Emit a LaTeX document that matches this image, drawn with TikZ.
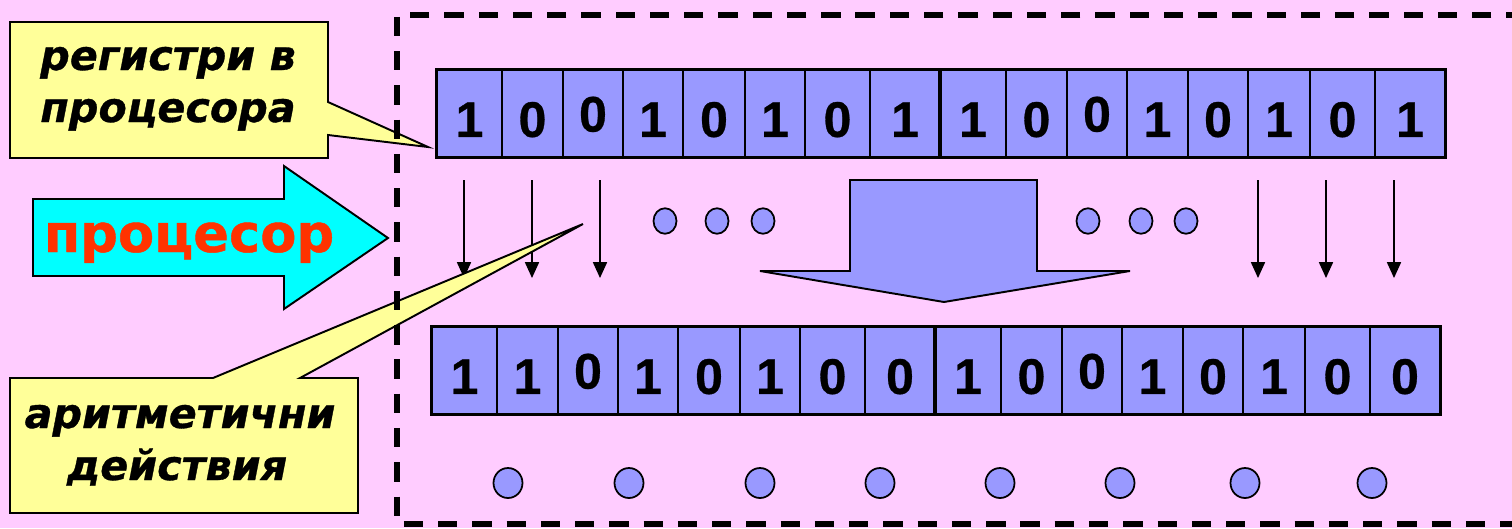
\documentclass[tikz,border=0pt]{standalone}
\usepackage{fontspec}
\setmainfont{Liberation Sans}[BoldFeatures={FakeBold=0.6}]
\newfontfamily\calloutfont{DejaVu Sans}[BoldFeatures={FakeBold=0.8},BoldItalicFeatures={FakeBold=0.8}]
\usetikzlibrary{arrows.meta,shapes.geometric}
\definecolor{bgpink}{HTML}{FFCCFF}
\definecolor{bitblue}{HTML}{9999FF}
\definecolor{noteyellow}{HTML}{FFFF99}
\definecolor{cpucyan}{HTML}{00FFFF}
\definecolor{cpured}{HTML}{FF3300}
\newcommand\upzero{\raisebox{3pt}{0}}
\begin{document}
\begin{tikzpicture}[x=0.02cm,y=-0.02cm,
  cell/.style={draw=black,line width=1pt,fill=bitblue,inner sep=0pt,
    minimum height=1.74cm,text height=26.6pt,text depth=0pt,
    font=\fontsize{28.5}{30}\selectfont\bfseries},
  half/.style={draw=black,line width=1.7pt},
  smalldot/.style={ellipse,draw=black,line width=1pt,fill=bitblue,inner sep=0pt,
    minimum width=0.46cm,minimum height=0.51cm},
  bigdot/.style={ellipse,draw=black,line width=1pt,fill=bitblue,inner sep=0pt,
    minimum width=0.58cm,minimum height=0.6cm},
  flow/.style={line width=0.8pt,-{Triangle[length=9pt,width=8pt]}},
  note/.style={draw=black,line width=1.1pt,fill=noteyellow,line join=miter},
  notetext/.style={anchor=base,inner sep=0pt,
    font=\calloutfont\fontsize{23.5}{28}\selectfont\bfseries\itshape},
  blockshape/.style={draw=black,line width=1.1pt,line join=miter},
  frame/.style={line width=3.2pt,dash pattern=on 11pt off 8.5pt}]

% page and background
\useasboundingbox (0,0) rectangle (1512,528);
\fill[bgpink] (0,0) rectangle (1512,528);
\clip (0,0) rectangle (1512,528);

% source register
\foreach \a/\b/\d [count=\i] in {437/502/1,502/563/0,563/623/\upzero,623/683/1,
    683/745/0,745/805/1,805/870/0,870/940/1,940/1006/1,1006/1067/0,
    1067/1127/\upzero,1127/1188/1,1188/1248/0,1248/1310/1,1310/1375/0,1375/1445/1}
  \node[cell,minimum width={(\b-\a)*0.02cm}] (t\i) at ({(\a+\b)/2},113.5) {\d};
\draw[half] (t1.north west) rectangle (t8.south east);
\draw[half] (t9.north west) rectangle (t16.south east);

% result register
\foreach \a/\b/\d [count=\i] in {432/497/1,497/558/1,558/618/\upzero,618/678/1,
    678/740/0,740/800/1,800/865/0,865/935/0,935/1001/1,1001/1062/0,
    1062/1122/\upzero,1122/1183/1,1183/1243/0,1243/1305/1,1305/1370/0,1370/1440/0}
  \node[cell,minimum width={(\b-\a)*0.02cm}] (r\i) at ({(\a+\b)/2},370.5) {\d};
\draw[half] (r1.north west) rectangle (r8.south east);
\draw[half] (r9.north west) rectangle (r16.south east);

% bit transfer arrows
\foreach \x [count=\i] in {464,532,600,1258,1326,1394} {
  \coordinate (as\i) at (\x,180);
  \coordinate (ae\i) at (\x,278);
  \draw[flow] (as\i) -- (ae\i);
}

% ellipsis dots between the arrows
\foreach \x [count=\i] in {665,717,763,1088,1141,1186}
  \node[smalldot] (m\i) at (\x,221) {};

% dots under the result register
\foreach \x [count=\i] in {508,629,760,880,1000,1120,1245,1372}
  \node[bigdot] (b\i) at (\x,483) {};

% big downward block arrow
\draw[blockshape,fill=bitblue] (850,180) -- (1037,180) -- (1037,271) -- (1130,271)
  -- (944,302) -- (760,271) -- (850,271) -- cycle;

% processor arrow
\draw[blockshape,fill=cpucyan] (33,199) -- (284,199) -- (284,166) -- (388,238)
  -- (284,309) -- (284,276) -- (33,276) -- cycle;
\node[anchor=base,inner sep=0pt,text=cpured,
  font=\calloutfont\fontsize{30}{34}\selectfont\bfseries] (cpu) at (189,252) {процесор};

% callout: registers
\draw[note] (10,22) -- (328,22) -- (328,102) -- (428,147) -- (328,135)
  -- (328,158) -- (10,158) -- cycle;
\node[notetext] (reg1) at (168,70) {регистри в};
\node[notetext] (reg2) at (168,122) {процесора};

% callout: arithmetic
\draw[note] (10,378) -- (213,378) -- (583,224) -- (300,378) -- (358,378)
  -- (358,513) -- (10,513) -- cycle;
\node[notetext] (ar1) at (180,428) {аритметични};
\node[notetext] (ar2) at (177,480) {действия};

% processor boundary
\draw[frame] (1560,15) -- (397,15) -- (397,524) -- (1560,524);
\end{tikzpicture}
\end{document}
